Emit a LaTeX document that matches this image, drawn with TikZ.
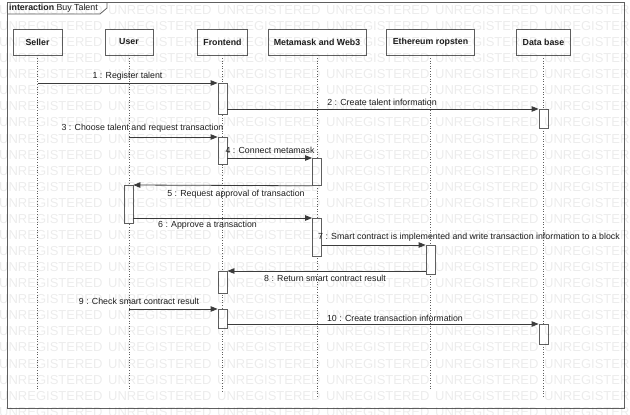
\documentclass[tikz,border=0pt]{standalone}
\usepackage{fontspec}
\setmainfont{Liberation Sans}
\usetikzlibrary{arrows.meta}
\definecolor{linegray}{RGB}{95,95,95}
\definecolor{msggray}{RGB}{60,60,60}
\definecolor{txt}{RGB}{30,30,30}
\tikzset{
  head/.style={draw=linegray, line width=0.8pt, fill=white, minimum height=26pt, inner sep=0pt,
    font=\fontsize{8.8}{10}\selectfont\bfseries, text=txt},
  act/.style={draw=linegray, line width=0.8pt, fill=white, minimum width=9pt, inner sep=0pt},
  life/.style={draw=linegray, dotted, line width=0.6pt},
  msg/.style={draw=msggray, line width=0.8pt, -{Triangle[length=7pt,width=5.5pt]}},
  lbl/.style={font=\fontsize{8.8}{10}\selectfont, text=txt, inner sep=0pt},
  wm/.style={font=\fontsize{13}{14}\selectfont, text=black, text opacity=0.075, anchor=west, inner sep=0pt},
}
\begin{document}
\begin{tikzpicture}[x=1pt,y=-1pt]
\useasboundingbox (0,0) rectangle (630,415);
\fill[white] (0,0) rectangle (630,415);
% frame
\draw[linegray, line width=0.8pt] (7,2) rectangle (624,408);
\draw[linegray, line width=0.8pt] (7,14) -- (100,14) -- (107,8) -- (107,2);
\node[lbl, anchor=west] (title) at (9,8.5) {\textbf{interaction} Buy Talent};
% heads
\node[head, minimum width=49pt] (seller) at (37.5,42) {Seller};
\node[head, minimum width=48pt] (user) at (129,42) {User};
\node[head, minimum width=50pt] (front) at (222.5,42) {Frontend};
\node[head, minimum width=98pt] (meta) at (317,42) {Metamask and Web3};
\node[head, minimum width=88pt] (eth) at (430.5,42) {Ethereum ropsten};
\node[head, minimum width=54pt] (db) at (543.5,42) {Data base};
% lifelines
\coordinate (sellerEnd) at (37.5,389);
\coordinate (userEnd) at (129,389);
\coordinate (frontEnd) at (222.5,393);
\coordinate (metaEnd) at (317,398);
\coordinate (ethEnd) at (430.5,389);
\coordinate (dbEnd) at (543.5,398);
\draw[life] (seller.south) -- (sellerEnd);
\draw[life] (user.south) -- (userEnd);
\draw[life] (front.south) -- (frontEnd);
\draw[life] (meta.south) -- (metaEnd);
\draw[life] (eth.south) -- (ethEnd);
\draw[life] (db.south) -- (dbEnd);
% activations
\node[act, anchor=north, minimum height=31pt] (f1) at (222.5,83) {};
\node[act, anchor=north, minimum height=19pt] (d1) at (543.5,109) {};
\node[act, anchor=north, minimum height=27pt] (f2) at (222.5,137) {};
\node[act, anchor=north, minimum height=27pt] (m1) at (317,158) {};
\node[act, anchor=north, minimum height=38pt] (u1) at (128.5,185) {};
\node[act, anchor=north, minimum height=38pt] (m2) at (317,218) {};
\node[act, anchor=north, minimum height=29pt] (e1) at (430.5,245) {};
\node[act, anchor=north, minimum height=22pt] (f3) at (222.5,271) {};
\node[act, anchor=north, minimum height=19pt] (f4) at (222.5,309) {};
\node[act, anchor=north, minimum height=20pt] (d2) at (543.5,324) {};
% messages
\coordinate (m1start) at (37.5,83);
\draw[msg] (m1start) -- (f1.north west);
\draw[msg] (f1.east |- d1.north) -- (d1.north west);
\draw[msg] (user.south |- f2.north) -- (f2.north west);
\draw[msg] (f2.east |- m1.north) -- (m1.north west);
\draw[msg] (m1.south west) -- (u1.north east);
\draw[msg] (u1.east |- m2.north) -- (m2.north west);
\draw[msg] (m2.east |- e1.north) -- (e1.north west);
\draw[msg] (e1.west |- f3.north) -- (f3.north east);
\draw[msg] (user.south |- f4.north) -- (f4.north west);
\draw[msg] (f4.east |- d2.north) -- (d2.north west);
% labels
\node[lbl] (l1) at (127.5,76) {1 : Register talent};
\node[lbl] (l2) at (382,102) {2 : Create talent information};
\node[lbl] (l3) at (142.5,128.5) {3 : Choose talent and request transaction};
\node[lbl] (l4) at (270,150) {4 : Connect metamask};
\node[lbl] (l5) at (236,194) {5 : Request approval of transaction};
\node[lbl] (l6) at (207.5,225) {6 : Approve a transaction};
\node[lbl] (l7) at (469,237) {7 : Smart contract is implemented and write transaction information to a block};
\node[lbl] (l8) at (325,278) {8 : Return smart contract result};
\node[lbl] (l9) at (139,301) {9 : Check smart contract result};
\node[lbl] (l10) at (395,318) {10 : Create transaction information};
% watermark
\foreach \r in {0,...,25} {
  \foreach \c in {0,...,5} {
    \node[wm] (wm\r-\c) at (\c*109-1, 10+\r*16.07) {UNREGISTERED};
  }
}
\end{tikzpicture}
\end{document}
